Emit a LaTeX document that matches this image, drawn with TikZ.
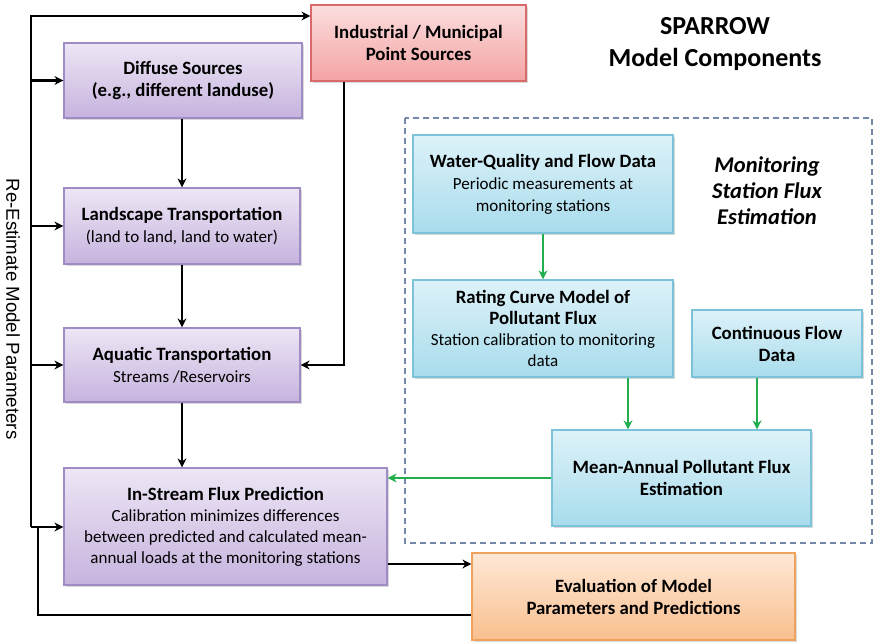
\documentclass[tikz,border=0pt]{standalone}
\usepackage{fontspec}
\setmainfont{Carlito}
\newfontfamily\sidefont{Liberation Sans}
\usetikzlibrary{arrows.meta, calc, shadows}

\definecolor{purpletop}{HTML}{EDE6F5}
\definecolor{purplebot}{HTML}{C6B3DE}
\definecolor{purpleedge}{HTML}{A08CC4}
\definecolor{redtop}{HTML}{FBDEDE}
\definecolor{redbot}{HTML}{F4A3A3}
\definecolor{rededge}{HTML}{D86A6A}
\definecolor{bluetop}{HTML}{DDF2F9}
\definecolor{bluebot}{HTML}{A8DCEC}
\definecolor{blueedge}{HTML}{7CC3DA}
\definecolor{orangetop}{HTML}{FEE8D6}
\definecolor{orangebot}{HTML}{F9BF8E}
\definecolor{orangeedge}{HTML}{EFA25E}
\definecolor{greenline}{HTML}{22AE4C}
\definecolor{dashcol}{HTML}{7388A8}

\newcommand{\hd}[1]{{\fontsize{18.8}{22}\selectfont\bfseries #1}}

\tikzset{
  box/.style={rectangle, draw, line width=1.2pt, align=center, inner sep=0pt,
    font=\fontsize{17}{22}\selectfont,
    drop shadow={opacity=0.3, shadow xshift=1.5pt, shadow yshift=-2pt}},
  purplebox/.style={box, draw=purpleedge, top color=purpletop, bottom color=purplebot},
  redbox/.style={box, draw=rededge, top color=redtop, bottom color=redbot},
  bluebox/.style={box, draw=blueedge, top color=bluetop, bottom color=bluebot},
  orangebox/.style={box, draw=orangeedge, top color=orangetop, bottom color=orangebot},
  link/.style={line width=2.2pt, black},
  arr/.style={link, -{Stealth[length=9pt, width=9pt]}},
  garr/.style={line width=2pt, greenline, -{Stealth[length=9pt, width=9pt]}},
  dashbox/.style={draw=dashcol, line width=1.8pt, dash pattern=on 6pt off 4pt}
}

\begin{document}
\begin{tikzpicture}[x=1pt, y=-1pt]
  \useasboundingbox (0,0) rectangle (874,642);

  % model chain (left column)
  \node[purplebox, minimum width=238pt, minimum height=75pt] (diff) at (183,80.5)
    {\hd{Diffuse Sources}\\\hd{(e.g., different landuse)}};
  \node[redbox, minimum width=215pt, minimum height=76pt] (ind) at (418.5,43)
    {\hd{Industrial / Municipal}\\\hd{Point Sources}};
  \node[purplebox, minimum width=236pt, minimum height=76pt] (land) at (182,226)
    {\hd{Landscape Transportation}\\(land to land, land to water)};
  \node[purplebox, minimum width=236pt, minimum height=74pt] (aqua) at (182,365)
    {\hd{Aquatic Transportation}\\Streams /Reservoirs};
  \node[purplebox, font=\fontsize{17}{21}\selectfont, minimum width=323pt, minimum height=117pt] (flux) at (225.5,526.5)
    {\hd{In-Stream Flux Prediction}\\Calibration minimizes differences\\between predicted and calculated mean-\\annual loads at the monitoring stations};
  \node[orangebox, minimum width=323pt, minimum height=87pt] (eval) at (633.5,596.5)
    {\hd{Evaluation of Model}\\\hd{Parameters and Predictions}};

  % monitoring station part
  \draw[dashbox] (405,118) rectangle (872,543);
  \node[bluebox, minimum width=260pt, minimum height=98pt] (wq) at (543,184)
    {\hd{Water-Quality and Flow Data}\\Periodic measurements at\\monitoring stations};
  \node[bluebox, font=\fontsize{17}{21}\selectfont, minimum width=260pt, minimum height=97pt] (rc) at (543,328.5)
    {\hd{Rating Curve Model of}\\\hd{Pollutant Flux}\\Station calibration to monitoring\\data};
  \node[bluebox, minimum width=170pt, minimum height=67pt] (cf) at (777,343.5)
    {\hd{Continuous Flow}\\\hd{Data}};
  \node[bluebox, minimum width=259pt, minimum height=96pt] (maf) at (681.5,478)
    {\hd{Mean-Annual Pollutant Flux}\\\hd{Estimation}};

  % titles
  \node[font=\fontsize{26}{32}\selectfont\bfseries, align=center] (title) at (715,44)
    {SPARROW\\Model Components};
  \node[font=\fontsize{22.5}{26}\selectfont\bfseries\itshape, align=center] (mon) at (767,191)
    {Monitoring\\Station Flux\\Estimation};
  \node[font=\sidefont\fontsize{18.7}{20}\selectfont, rotate=-90] (reest) at (13,309)
    {Re-Estimate Model Parameters};

  % black connectors
  \draw[arr] (land.north |- diff.south) -- (land.north);
  \draw[arr] (land.south) -- (aqua.north);
  \draw[arr] (aqua.south) -- (aqua.south |- flux.north);
  \draw[arr] ([xshift=-74.5pt]ind.south) |- (aqua.east);
  \coordinate (fe) at ([yshift=-37.5pt]flux.east);
  \draw[arr] (fe) -- (fe -| eval.west);

  % feedback loop
  \coordinate (fbtop) at (31,16);
  \coordinate (fbbot) at (31,527);
  \coordinate (fbjoin) at (38,527);
  \coordinate (evin) at ([yshift=-18.5pt]eval.west);
  \draw[link] (evin) -| (fbjoin);
  \draw[arr] (fbbot) -- (fbtop) -- (fbtop -| ind.west);
  \draw[arr] (fbtop |- diff.west) -- (diff.west);
  \draw[arr] (fbtop |- land.west) -- (land.west);
  \draw[arr] (fbtop |- aqua.west) -- (aqua.west);
  \draw[arr] (fbbot) -- (fbbot -| flux.west);

  % green connectors
  \draw[garr] (wq.south) -- (rc.north);
  \coordinate (rcout) at ([xshift=85pt]rc.south);
  \draw[garr] (rcout) -- (rcout |- maf.north);
  \coordinate (cfout) at ([xshift=-20pt]cf.south);
  \draw[garr] (cfout) -- (cfout |- maf.north);
  \draw[garr] (maf.west) -- (maf.west -| flux.east);
\end{tikzpicture}
\end{document}
